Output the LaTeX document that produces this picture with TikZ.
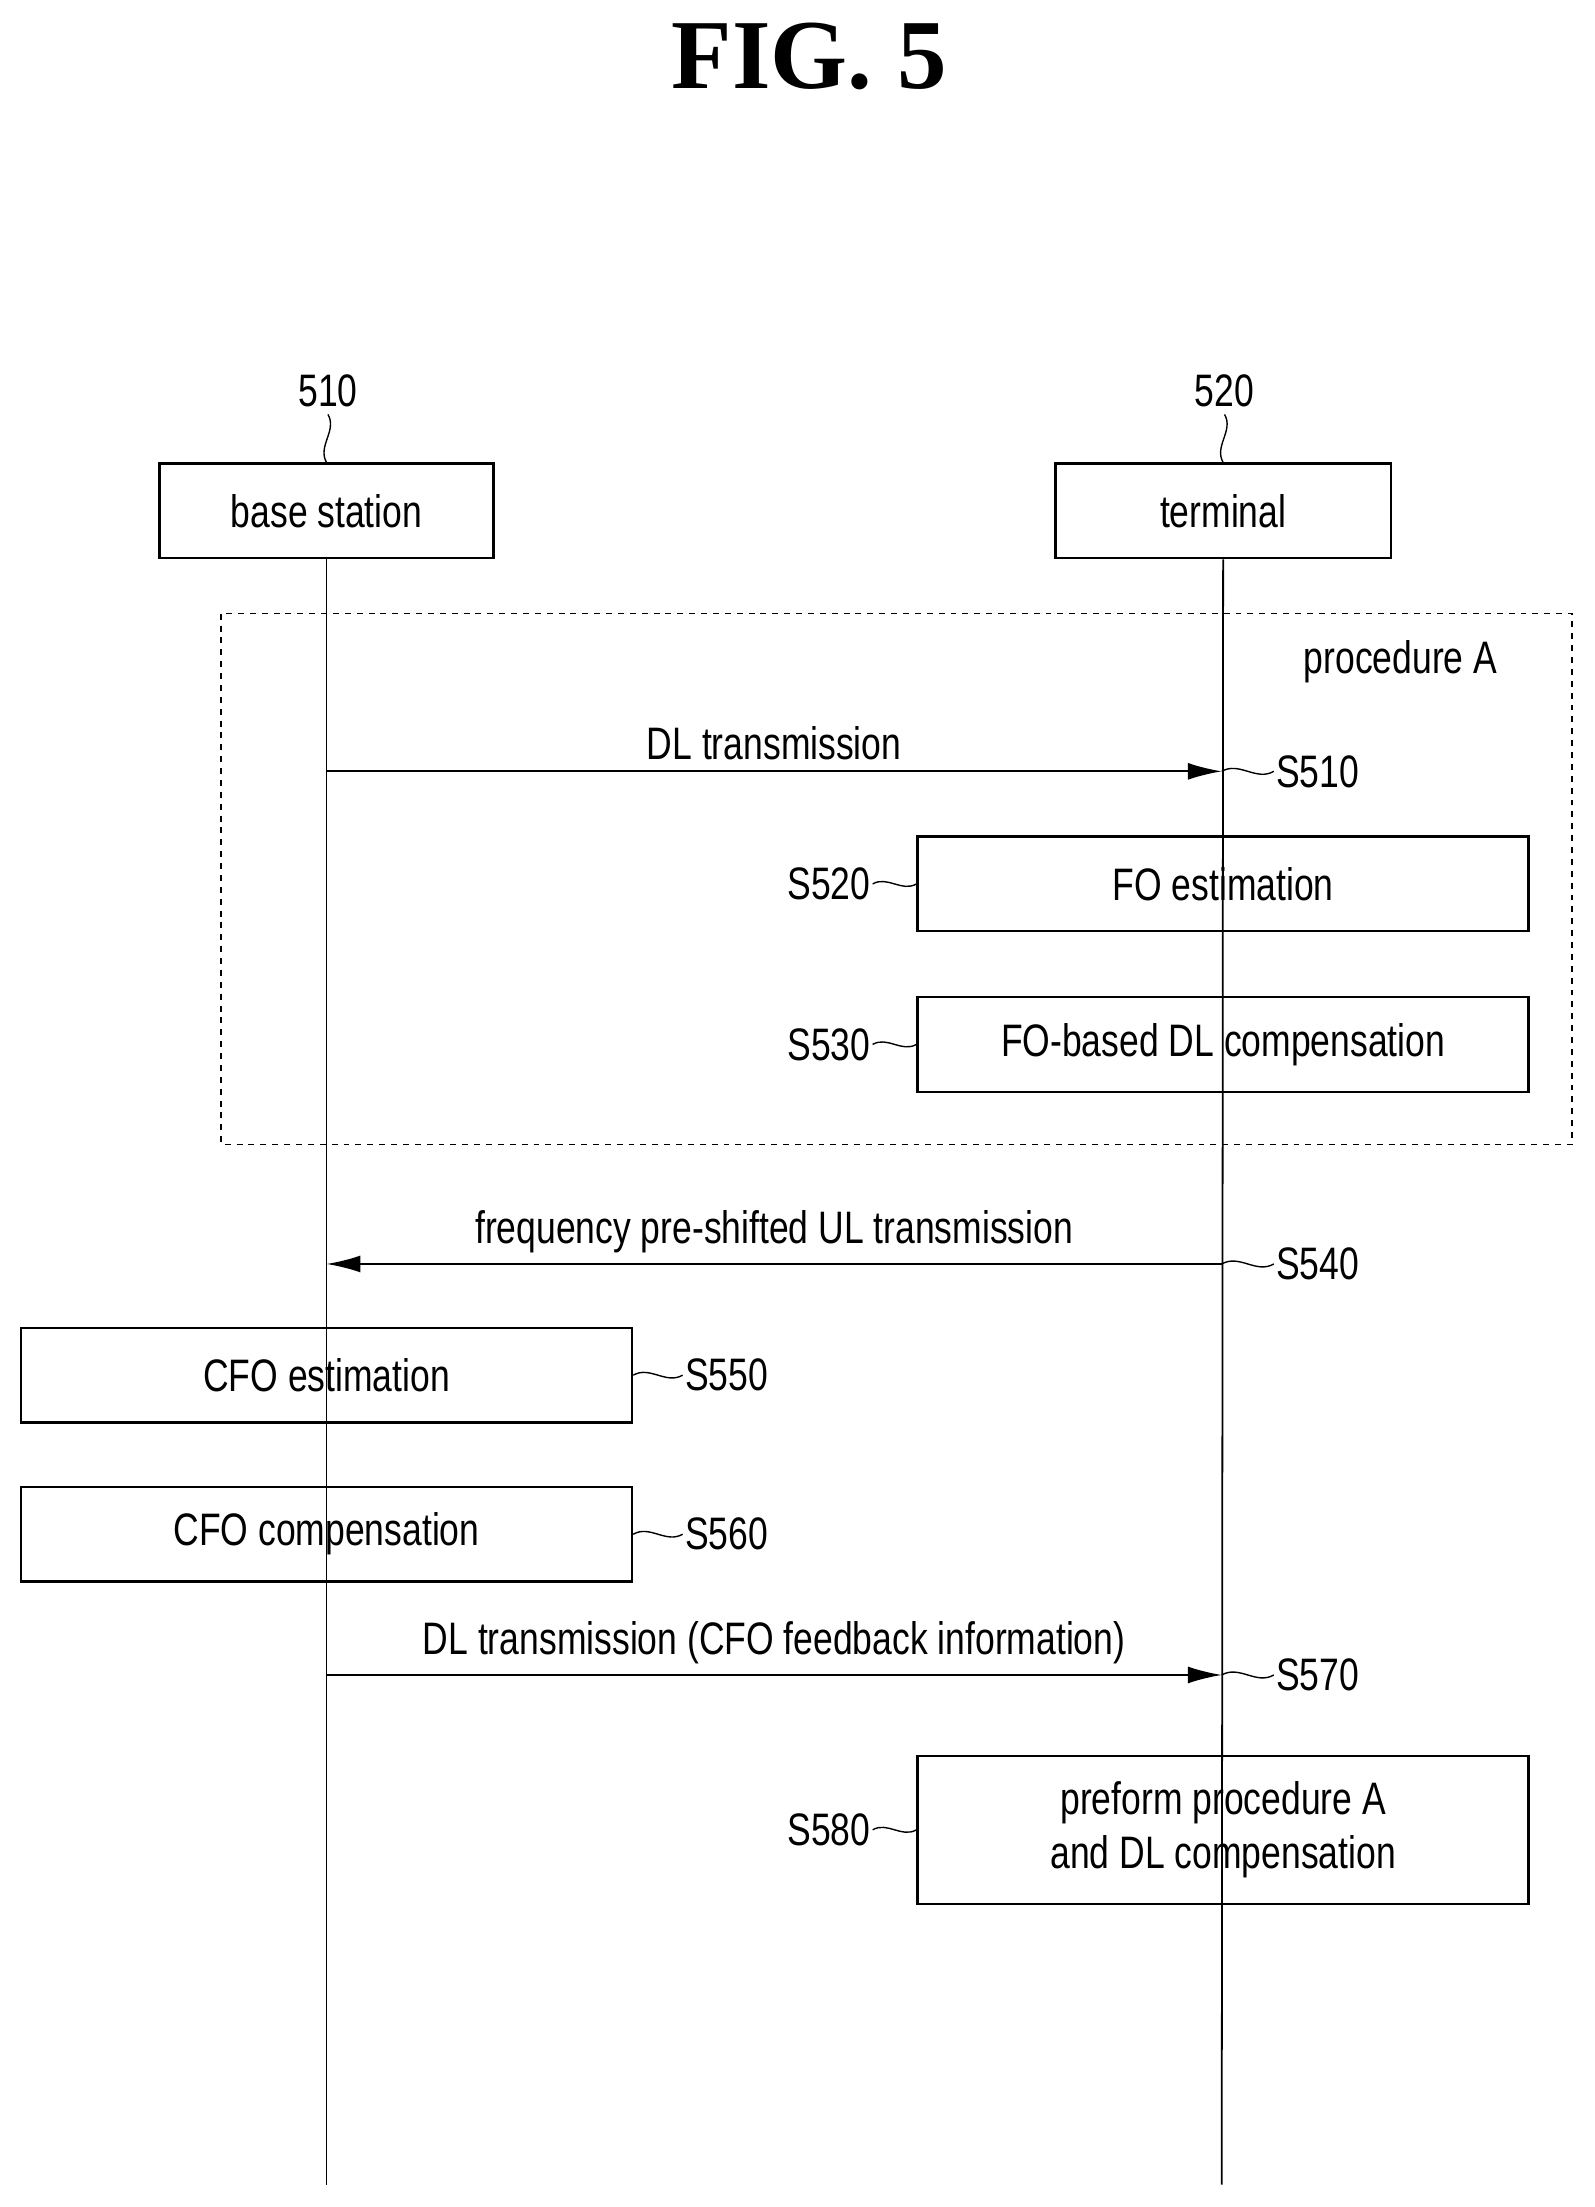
\documentclass[tikz,border=0pt]{standalone}
\usepackage{fontspec}
\setmainfont{Liberation Sans}[FakeStretch=0.78]
\newfontfamily\titlefont{Liberation Serif}
\usetikzlibrary{arrows.meta}

\begin{document}
\begin{tikzpicture}[x=0.025cm,y=-0.025cm,
    font=\fontsize{23}{27}\selectfont,
    box/.style={draw,line width=1.2pt,minimum height=1.68cm,inner sep=0pt},
    life/.style={line width=0.9pt},
    msg/.style={line width=0.9pt,-{Latex[length=0.6cm,width=0.3cm]}},
    leader/.style={line width=0.7pt},
    steplbl/.style={inner sep=1pt}]
    \useasboundingbox (0,0) rectangle (1133,1568);

    % Title
    \node[font=\titlefont\bfseries\fontsize{50}{56}\selectfont] (title) at (575,40) {FIG. 5};

    % Entities
    \node[box,minimum width=5.93cm] (bs) at (232,363) {base station};
    \node[box,minimum width=5.95cm] (ue) at (869,363) {terminal};
    \node (n510) at (233,278) {510};
    \node (n520) at (870,278) {520};
    \draw[leader] (n510.south) to[out=-60,in=120] (bs.north);
    \draw[leader] (n520.south) to[out=-60,in=120] (ue.north);

    % Lifelines
    \coordinate (bsend) at (232,1552);
    \coordinate (ueend) at (868,1552);
    \draw[life] (bs.south) -- (bsend);
    \draw[life] (ue.south) -- (ueend);

    % Procedure A
    \draw[dashed,line width=0.8pt] (157,436) rectangle (1117,813);
    \node (procA) at (995,470) {procedure A};

    % S510
    \coordinate (a1) at (232,548);
    \coordinate (b1) at (868,548);
    \draw[msg] (a1) -- node[above=2pt] {DL transmission} (b1);
    \node[steplbl,anchor=west] (s510) at (905,548) {S510};
    \draw[leader] (b1) to[out=30,in=210] (s510.west);

    % S520, S530
    \node[box,minimum width=10.85cm] (foest) at (869,628) {FO estimation};
    \node[box,minimum width=10.85cm] (focomp) at (869,742) {FO-based DL compensation};
    \node[steplbl,anchor=east] (s520) at (620,628) {S520};
    \node[steplbl,anchor=east] (s530) at (620,742) {S530};
    \draw[leader] (s520.east) to[out=30,in=210] (foest.west);
    \draw[leader] (s530.east) to[out=30,in=210] (focomp.west);

    % S540
    \coordinate (a2) at (868,898);
    \coordinate (b2) at (232,898);
    \draw[msg] (a2) -- node[above=2pt] {frequency pre-shifted UL transmission} (b2);
    \node[steplbl,anchor=west] (s540) at (905,898) {S540};
    \draw[leader] (a2) to[out=30,in=210] (s540.west);

    % S550, S560
    \node[box,minimum width=10.85cm] (cfoest) at (232,977) {CFO estimation};
    \node[box,minimum width=10.85cm] (cfocomp) at (232,1090) {CFO compensation};
    \node[steplbl,anchor=west] (s550) at (485,977) {S550};
    \node[steplbl,anchor=west] (s560) at (485,1090) {S560};
    \draw[leader] (cfoest.east) to[out=30,in=210] (s550.west);
    \draw[leader] (cfocomp.east) to[out=30,in=210] (s560.west);

    % S570
    \coordinate (a3) at (232,1190);
    \coordinate (b3) at (868,1190);
    \draw[msg] (a3) -- node[above=2pt] {DL transmission (CFO feedback information)} (b3);
    \node[steplbl,anchor=west] (s570) at (905,1190) {S570};
    \draw[leader] (b3) to[out=30,in=210] (s570.west);

    % S580
    \node[box,minimum width=10.85cm,minimum height=2.63cm,align=center] (final) at (869,1300) {preform procedure A\\and DL compensation};
    \node[steplbl,anchor=east] (s580) at (620,1300) {S580};
    \draw[leader] (s580.east) to[out=30,in=210] (final.west);
\end{tikzpicture}
\end{document}
